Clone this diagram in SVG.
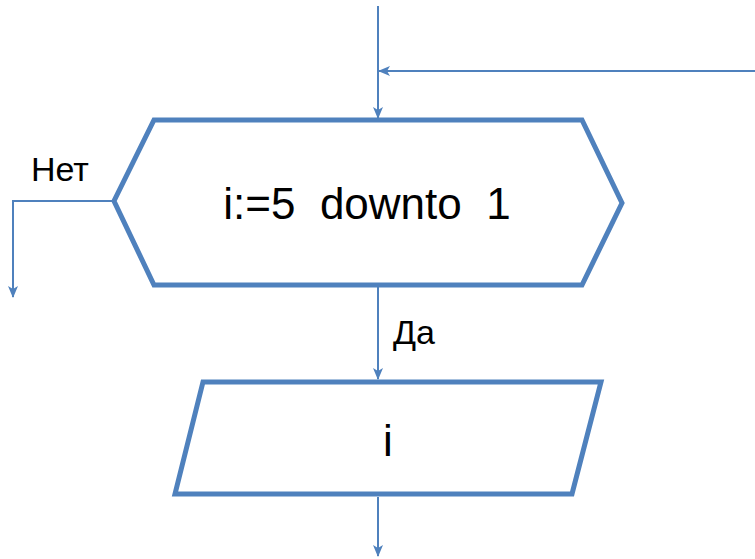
<svg xmlns="http://www.w3.org/2000/svg" width="755" height="559" viewBox="0 0 755 559">
<style>
.shape{fill:#fff;stroke:#4F81BD;stroke-width:5;stroke-linejoin:miter}
.conn{fill:none;stroke:#4F81BD;stroke-width:2}
.lbl{font-family:"Liberation Sans",Arial,sans-serif;fill:#000}
</style>
<defs>
<marker id="arr" viewBox="0 0 12 10" refX="11" refY="5" markerWidth="12" markerHeight="10" markerUnits="userSpaceOnUse" orient="auto">
<path d="M0,0 L12,5 L0,10 L3,5 Z" fill="#4F81BD"/>
</marker>
</defs>
<rect width="755" height="559" fill="#fff"/>
<g id="connectors">
<path class="conn" d="M378,6 L378,118" marker-end="url(#arr)"/>
<path class="conn" d="M755,71 L379,71" marker-end="url(#arr)"/>
<path class="conn" d="M114,201 L13,201 L13,297" marker-end="url(#arr)"/>
<path class="conn" d="M378,287 L378,379" marker-end="url(#arr)"/>
<path class="conn" d="M378,497 L378,556" marker-end="url(#arr)"/>
</g>
<g id="loop">
<polygon class="shape" points="154,120 582,120 622,203 582,285 154,285 114,201"/>
<text class="lbl" x="367" y="219" font-size="44" text-anchor="middle" xml:space="preserve">i:=5  downto  1</text>
</g>
<g id="output">
<polygon class="shape" points="203,382 601,382 572,494 175,494"/>
<text class="lbl" x="388" y="456" font-size="44" text-anchor="middle">i</text>
</g>
<g id="label-no">
<text class="lbl" x="31" y="181" font-size="34">Нет</text>
</g>
<g id="label-yes">
<text class="lbl" x="393" y="344" font-size="34">Да</text>
</g>
</svg>
